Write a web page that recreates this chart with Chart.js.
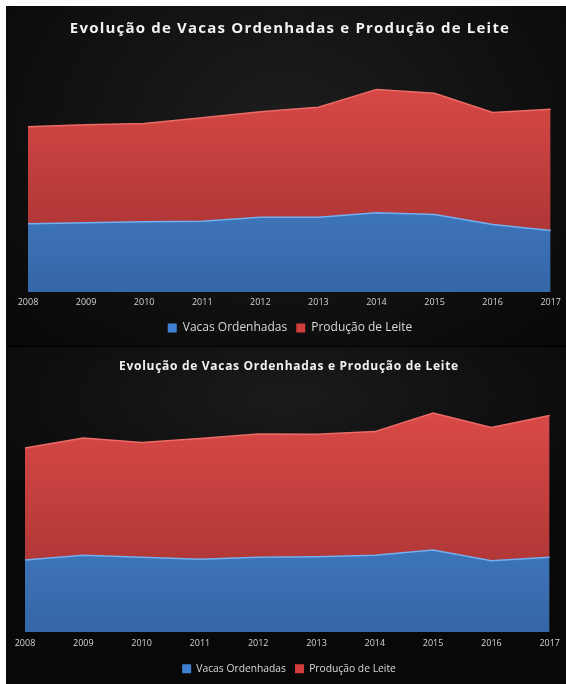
<!DOCTYPE html>
<html lang="pt">
<head>
  <meta charset="UTF-8">
  <title>Evolução de Vacas Ordenhadas e Produção de Leite</title>
  <style>
    html, body {
      margin: 0;
      padding: 0;
      background: #ffffff;
    }

    #painel {
      position: absolute;
      left: 6px;
      top: 6px;
      width: 560px;
      height: 678px;
      background: radial-gradient(ellipse 70% 45% at 50% 18%, #1d1d1d 0%, #101010 60%, #080808 100%);
    }

    .bloco {
      position: absolute;
      left: 0;
      width: 560px;
    }

    #bloco1 { top: 0; height: 340px; border-bottom: 1px solid #000; }
    #bloco2 { top: 341px; height: 337px; background: radial-gradient(ellipse 70% 45% at 50% 15%, #1b1b1b 0%, #0f0f0f 60%, #080808 100%); }
  </style>
</head>
<body>

  <div id="painel">
    <div class="bloco" id="bloco1"><canvas id="grafico1" width="560" height="340"></canvas></div>
    <div class="bloco" id="bloco2"><canvas id="grafico2" width="560" height="337"></canvas></div>
  </div>

  <script src="https://cdn.jsdelivr.net/npm/chart.js"></script>
  <script>
    // dados (sem eixo Y visível, unidades relativas)
    const anos = ['2008', '2009', '2010', '2011', '2012', '2013', '2014', '2015', '2016', '2017'];

    const vacas1 = [68, 69, 70, 70.6, 74.6, 74.6, 79, 77.3, 67.3, 61.3];
    const leite1 = [96.6, 97.6, 97.8, 103, 105, 109.4, 122.8, 120.7, 111.5, 120.7];

    const vacas2 = [72.3, 77, 75, 73, 75, 75.6, 77, 82.3, 71.6, 75];
    const leite2 = [112.7, 118, 115.6, 121.6, 124, 123.2, 124.5, 138, 134, 142.6];

    const titulo = 'Evolução de Vacas Ordenhadas e Produção de Leite';
    const nomeVacas = 'Vacas Ordenhadas';
    const nomeLeite = 'Produção de Leite';

    function gradiente(cores) {
      return function (context) {
        const { ctx, chartArea } = context.chart;
        if (!chartArea) return cores[0];
        const g = ctx.createLinearGradient(0, chartArea.top, 0, chartArea.bottom);
        g.addColorStop(0, cores[0]);
        g.addColorStop(1, cores[1]);
        return g;
      };
    }

    // espaçamento entre letras só no título
    const tituloEspacado = {
      id: 'tituloEspacado',
      beforeDraw(chart, args, opts) {
        const tb = chart.titleBlock;
        if (!tb || tb._espacado) return;
        const desenhar = tb.draw.bind(tb);
        tb.draw = function (area) {
          chart.ctx.save();
          chart.ctx.letterSpacing = opts.espaco + 'px';
          desenhar(area);
          chart.ctx.restore();
        };
        tb._espacado = true;
      },
    };

    function montarGrafico(id, vacas, leite, cfg) {
      const ctx = document.getElementById(id).getContext('2d');
      return new Chart(ctx, {
        type: 'line',
        data: {
          labels: anos,
          datasets: [
            {
              label: nomeVacas,
              data: vacas,
              fill: 'origin',
              backgroundColor: gradiente(['#4f93e0', '#3566a6']),
              borderColor: '#72b0f2',
              borderWidth: 1.5,
              pointRadius: 0,
              tension: 0,
            },
            {
              label: nomeLeite,
              data: leite,
              fill: '-1',
              backgroundColor: gradiente(['#e14d4a', '#9e2f2f']),
              borderColor: '#ec6c68',
              borderWidth: 1.5,
              pointRadius: 0,
              tension: 0,
            },
          ],
        },
        plugins: [tituloEspacado],
        options: {
          responsive: false,
          animation: false,
          layout: {
            padding: cfg.padding,
          },
          scales: {
            x: {
              offset: false,
              grid: { display: false, drawTicks: false },
              border: { display: false },
              ticks: {
                color: '#d4d4d4',
                font: { family: 'Open Sans', size: 9 },
                padding: cfg.tickPad,
                maxRotation: 0,
                autoSkip: false,
              },
            },
            y: {
              display: false,
              stacked: true,
              min: 0,
              max: cfg.yMax,
            },
          },
          plugins: {
            tituloEspacado: { espaco: cfg.titleSpacing },
            title: {
              display: true,
              text: titulo,
              color: '#f2f2f2',
              font: { family: 'Open Sans', size: cfg.titleSize, weight: 'bold' },
              padding: cfg.titlePad,
            },
            legend: {
              position: 'bottom',
              labels: {
                color: '#d9d9d9',
                font: { family: 'Open Sans', size: cfg.legendSize },
                boxWidth: 9,
                boxHeight: 9,
                padding: cfg.legendPad,
                generateLabels: function (chart) {
                  const itens = Chart.defaults.plugins.legend.labels.generateLabels(chart);
                  const cores = ['#3f80d2', '#d23c3a'];
                  itens.forEach((it, i) => {
                    it.fillStyle = cores[i];
                    it.strokeStyle = cores[i];
                    it.lineWidth = 0;
                  });
                  return itens;
                },
              },
            },
            tooltip: { enabled: false },
          },
        },
      });
    }

    window.onload = function () {
      montarGrafico('grafico1', vacas1, leite1, {
        padding: { top: 4, left: 22, right: 14, bottom: 2 },
        tickPad: 5,
        yMax: 240,
        titleSize: 15,
        titleSpacing: 1.2,
        titlePad: { top: 10, bottom: 13 },
        legendSize: 12,
        legendPad: 9,
      });

      montarGrafico('grafico2', vacas2, leite2, {
        padding: { top: 4, left: 19, right: 13, bottom: 0 },
        tickPad: 6,
        yMax: 250,
        titleSize: 12,
        titleSpacing: 0.7,
        titlePad: { top: 8, bottom: 10 },
        legendSize: 10.3,
        legendPad: 9,
      });
    };
  </script>
</body>
</html>
